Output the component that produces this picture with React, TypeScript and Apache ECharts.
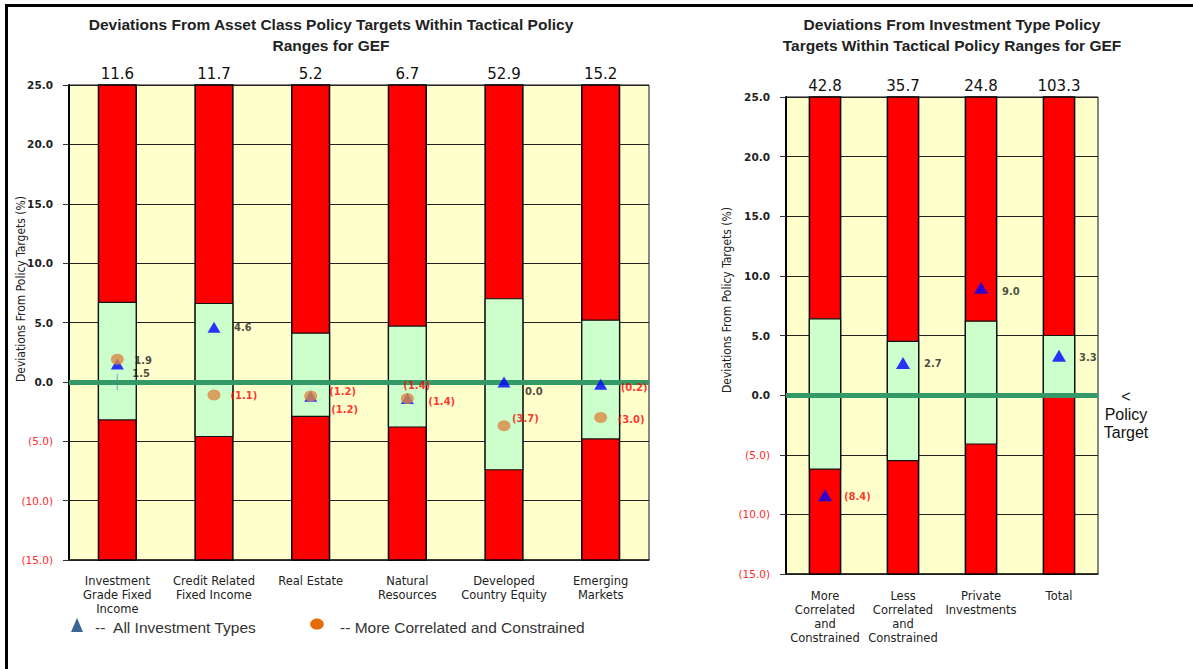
import React, { useEffect, useRef } from "react";
import * as echarts from "echarts";

// ---------- DATA ----------
const leftCategories = [
  "Investment\nGrade Fixed\nIncome",
  "Credit Related\nFixed Income",
  "Real Estate",
  "Natural\nResources",
  "Developed\nCountry Equity",
  "Emerging\nMarkets",
];
const leftTopLabels = ["11.6", "11.7", "5.2", "6.7", "52.9", "15.2"];
const leftRangeUpper = [6.7, 6.6, 4.1, 4.7, 7.0, 5.2];
const leftRangeLower = [-3.2, -4.6, -2.9, -3.8, -7.4, -4.8];
const leftAllTypes = [1.5, 4.6, -1.2, -1.4, 0.0, -0.2];
const leftMoreCorrelated = [1.9, -1.1, -1.2, -1.4, -3.7, -3.0];
const leftPlusMarker = [0, null, null, null, null, null];

const rightCategories = [
  "More\nCorrelated\nand\nConstrained",
  "Less\nCorrelated\nand\nConstrained",
  "Private\nInvestments",
  "Total",
];
const rightTopLabels = ["42.8", "35.7", "24.8", "103.3"];
const rightRangeUpper = [6.4, 4.5, 6.2, 5.0];
const rightRangeLower = [-6.2, -5.5, -4.1, 0.0];
const rightAllTypes = [-8.4, 2.7, 9.0, 3.3];

const Y_MIN = -15;
const Y_MAX = 25;
const Y_STEP = 5;

// ---------- LAYOUT / STYLE (label offsets are layout, not data) ----------
const leftAllLabelOffsets = [[8.5, 9], [13.5, 0.5], [12, -4.5], [-10.5, -13.5], [14.5, 10], [13.5, 3.3]];
const leftMoreLabelOffsets = [[10.5, 1.5], [10, 1], [14, 13], [14.5, 3], [1.5, -7], [10.5, 1.5]];
const rightAllLabelOffsets = [[12, 1], [14, 1], [14, 4], [13, 2]];

const RED = "#FF0000";
const GREEN = "#CCFFCC";
const BG = "#FFFFCC";
const ZERO_LINE = "#339966";
const NEG_TEXT = "#FF2A2A";
const DARK = "#1a1a1a";

const fmt = (v: number) => (v < 0 ? `(${(-v).toFixed(1)})` : v.toFixed(1));

const makeRangeRenderer = (widthFrac: number) => (params: any, api: any) => {
  const idx = api.value(0);
  const lo = api.value(1);
  const hi = api.value(2);
  const band = api.size([1, 0])[0];
  const w = band * widthFrac;
  const pTop = api.coord([idx, Y_MAX]);
  const pBot = api.coord([idx, Y_MIN]);
  const pHi = api.coord([idx, hi]);
  const pLo = api.coord([idx, lo]);
  const x = pTop[0] - w / 2;
  return {
    type: "group",
    children: [
      {
        type: "rect",
        shape: { x, y: pTop[1], width: w, height: pBot[1] - pTop[1] },
        style: { fill: RED, stroke: "#000", lineWidth: 1.5 },
      },
      {
        type: "rect",
        shape: { x, y: pHi[1], width: w, height: pLo[1] - pHi[1] },
        style: { fill: GREEN, stroke: "#111", lineWidth: 1.2 },
      },
    ],
  };
};

const yAxisCfg = (gridIndex: number) => ({
  gridIndex,
  type: "value",
  min: Y_MIN,
  max: Y_MAX,
  interval: Y_STEP,
  axisLine: { show: true, onZero: false, lineStyle: { color: "#000", width: 2 } },
  axisTick: { show: true, length: 6, lineStyle: { color: "#333", width: 1 } },
  splitLine: { show: true, lineStyle: { color: "#222", width: 1 } },
  axisLabel: {
    margin: 16,
    formatter: (v: number) => (v < 0 ? `{n|${fmt(v)}}` : `{p|${fmt(v)}}`),
    rich: {
      p: { fontFamily: "DejaVu Sans", fontSize: 10.5, fontWeight: "bold", color: "#222" },
      n: { fontFamily: "DejaVu Sans", fontSize: 10.5, color: NEG_TEXT },
    },
  },
});

const bottomAxis = (gridIndex: number, data: string[], margin: number) => ({
  gridIndex,
  type: "category",
  data,
  position: "bottom",
  axisLine: { show: true, onZero: false, lineStyle: { color: "#222", width: 1.5 } },
  axisTick: { show: false },
  splitLine: { show: false },
  axisLabel: {
    interval: 0,
    fontFamily: "DejaVu Sans",
    fontSize: 11.5,
    lineHeight: 14,
    margin,
    color: "#222",
  },
});

const topAxis = (gridIndex: number, data: string[]) => ({
  gridIndex,
  type: "category",
  data,
  position: "top",
  axisLine: { show: false },
  axisTick: { show: false },
  splitLine: { show: false },
  axisLabel: {
    interval: 0,
    fontFamily: "DejaVu Sans",
    fontSize: 15,
    color: "#111",
    margin: 4,
  },
});

const labelledPoints = (values: (number | null)[], offsets: number[][]) =>
  values.map((v, i) => ({
    value: v,
    label: {
      color: v !== null && v < 0 ? RED : DARK,
      offset: offsets[i],
    },
  }));

const pointLabel = {
  show: true,
  position: "right",
  distance: 0,
  fontFamily: "DejaVu Sans",
  fontSize: 10,
  fontWeight: "bold",
  formatter: (p: any) => fmt(p.value),
};

const zeroLineSeries = (xAxisIndex: number, yAxisIndex: number, n: number) => ({
  type: "line",
  xAxisIndex,
  yAxisIndex,
  data: new Array(n).fill(null),
  showSymbol: false,
  silent: true,
  z: 3,
  lineStyle: { opacity: 0 },
  markLine: {
    silent: true,
    symbol: ["none", "none"],
    label: { show: false },
    lineStyle: { color: ZERO_LINE, width: 5, type: "solid" },
    data: [{ yAxis: 0 }],
  },
});

const axisNameFont = "12px 'Liberation Sans Narrow', 'DejaVu Sans Condensed', sans-serif";
const titleFont = "bold 15.5px 'Liberation Sans', Arial, sans-serif";
const legendFont = "15.5px 'Liberation Sans', Arial, sans-serif";

export default function App() {
  const ref = useRef<HTMLDivElement>(null);

  useEffect(() => {
    document.body.style.margin = "0";
    if (!ref.current) return;
    const chart = echarts.init(ref.current, null, { renderer: "svg" });

    const option: any = {
      animation: false,
      backgroundColor: "#fff",
      grid: [
        { left: 69, top: 85, width: 580, height: 475, show: true, backgroundColor: BG, borderColor: "#111", borderWidth: 1 },
        { left: 786, top: 97, width: 312, height: 477, show: true, backgroundColor: BG, borderColor: "#111", borderWidth: 1 },
      ],
      xAxis: [
        bottomAxis(0, leftCategories, 14),
        topAxis(0, leftTopLabels),
        bottomAxis(1, rightCategories, 15),
        topAxis(1, rightTopLabels),
      ],
      yAxis: [yAxisCfg(0), yAxisCfg(1)],
      series: [
        {
          type: "custom",
          xAxisIndex: 0,
          yAxisIndex: 0,
          z: 2,
          renderItem: makeRangeRenderer(0.39),
          encode: { x: 0, y: [1, 2] },
          data: leftCategories.map((_, i) => [i, leftRangeLower[i], leftRangeUpper[i]]),
        },
        zeroLineSeries(0, 0, leftCategories.length),
        {
          type: "scatter",
          xAxisIndex: 0,
          yAxisIndex: 0,
          z: 4,
          symbol: "path://M4.6,0H5.4V4.6H10V5.4H5.4V10H4.6V5.4H0V4.6H4.6Z",
          symbolSize: 16,
          itemStyle: { color: "#8C9CCB" },
          data: leftPlusMarker,
        },
        {
          name: "All Investment Types",
          type: "scatter",
          xAxisIndex: 0,
          yAxisIndex: 0,
          z: 5,
          symbol: "triangle",
          symbolSize: [13, 11],
          itemStyle: { color: "#0000FF" },
          label: pointLabel,
          data: labelledPoints(leftAllTypes, leftAllLabelOffsets),
        },
        {
          name: "More Correlated and Constrained",
          type: "scatter",
          xAxisIndex: 0,
          yAxisIndex: 0,
          z: 6,
          symbol: "circle",
          symbolSize: [13, 11],
          itemStyle: { color: "#DB8744" },
          label: pointLabel,
          data: labelledPoints(leftMoreCorrelated, leftMoreLabelOffsets),
        },
        {
          type: "custom",
          xAxisIndex: 2,
          yAxisIndex: 1,
          z: 2,
          renderItem: makeRangeRenderer(0.4),
          encode: { x: 0, y: [1, 2] },
          data: rightCategories.map((_, i) => [i, rightRangeLower[i], rightRangeUpper[i]]),
        },
        zeroLineSeries(2, 1, rightCategories.length),
        {
          name: "All Investment Types",
          type: "scatter",
          xAxisIndex: 2,
          yAxisIndex: 1,
          z: 5,
          symbol: "triangle",
          symbolSize: [14, 12],
          itemStyle: { color: "#0000FF" },
          label: pointLabel,
          data: labelledPoints(rightAllTypes, rightAllLabelOffsets),
        },
      ],
      graphic: [
        // outer frame (left and top edges)
        { type: "rect", silent: true, shape: { x: 5, y: 4, width: 3, height: 665 }, style: { fill: "#000" } },
        { type: "rect", silent: true, shape: { x: 5, y: 4, width: 1188, height: 3 }, style: { fill: "#000" } },
        // titles
        {
          type: "text",
          x: 331,
          y: 14,
          style: {
            text: "Deviations From Asset Class Policy Targets Within Tactical Policy\nRanges for GEF",
            font: titleFont,
            fill: "#222",
            align: "center",
            verticalAlign: "top",
            lineHeight: 21,
          },
        },
        {
          type: "text",
          x: 952,
          y: 14,
          style: {
            text: "Deviations From Investment Type Policy\nTargets Within Tactical Policy Ranges for GEF",
            font: titleFont,
            fill: "#222",
            align: "center",
            verticalAlign: "top",
            lineHeight: 21,
          },
        },
        // y-axis names
        {
          type: "text",
          x: 21,
          y: 289,
          rotation: Math.PI / 2,
          style: {
            text: "Deviations From Policy Targets (%)",
            font: axisNameFont,
            fill: "#222",
            align: "center",
            verticalAlign: "middle",
          },
        },
        {
          type: "text",
          x: 727,
          y: 300,
          rotation: Math.PI / 2,
          style: {
            text: "Deviations From Policy Targets (%)",
            font: axisNameFont,
            fill: "#222",
            align: "center",
            verticalAlign: "middle",
          },
        },
        // legend
        {
          type: "polygon",
          shape: { points: [[71, 632], [77, 618], [83, 632]] },
          style: { fill: "#3C6496" },
        },
        {
          type: "text",
          x: 95,
          y: 627,
          style: {
            text: "--  All Investment Types",
            font: legendFont,
            fill: "#333",
            align: "left",
            verticalAlign: "middle",
          },
        },
        {
          type: "ellipse",
          shape: { cx: 317, cy: 624, rx: 6.8, ry: 5.6 },
          style: { fill: "#E46C0A" },
        },
        {
          type: "text",
          x: 340,
          y: 627,
          style: {
            text: "-- More Correlated and Constrained",
            font: legendFont,
            fill: "#333",
            align: "left",
            verticalAlign: "middle",
          },
        },
        // policy target note
        {
          type: "text",
          x: 1126,
          y: 387,
          style: {
            text: "<\nPolicy\nTarget",
            font: "16px 'Liberation Sans', Arial, sans-serif",
            fill: "#111",
            align: "center",
            verticalAlign: "top",
            lineHeight: 18,
          },
        },
      ],
    };

    chart.setOption(option);
    return () => chart.dispose();
  }, []);

  return <div ref={ref} style={{ width: 1193, height: 669 }} />;
}
